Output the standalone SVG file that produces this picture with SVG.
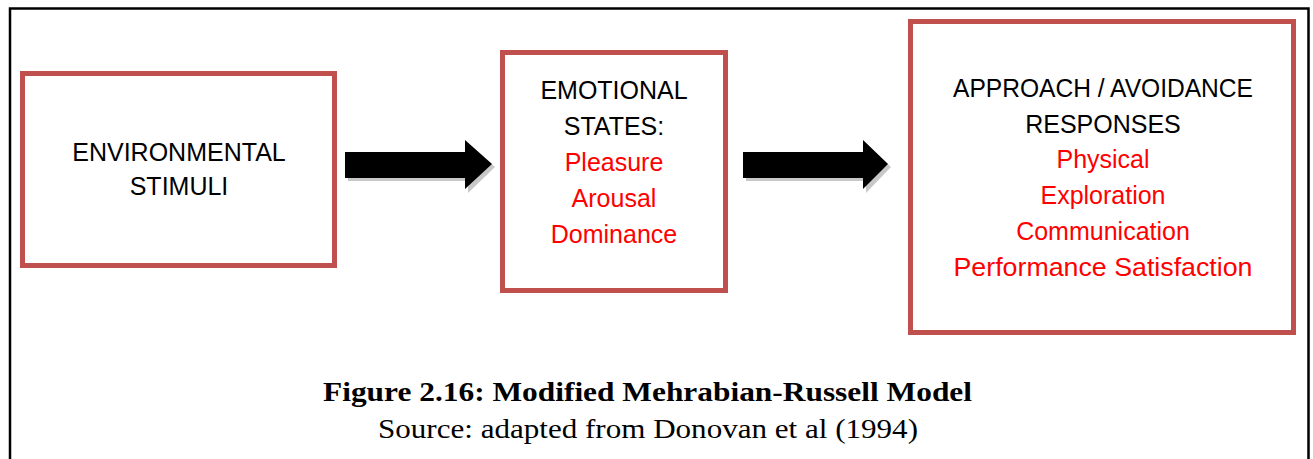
<svg xmlns="http://www.w3.org/2000/svg" width="1313" height="459" viewBox="0 0 1313 459">
<style>
.box{fill:#fff;stroke:#C0504D;stroke-width:5}
.t{font-family:"Liberation Sans",Arial,sans-serif;font-size:25px;text-anchor:middle;fill:#000}
.r{fill:#FF0000}
.shadow{fill:#c8c8c8}
.arrow{fill:#000}
.cap{font-family:"Liberation Serif","Times New Roman",serif;text-anchor:middle;fill:#000}
</style>
<rect width="1313" height="459" fill="#fff"/>
<path d="M10,459 V8.5 H1308.5 V459" fill="none" stroke="#000" stroke-width="2.5"/>
<g id="node-environmental">
<rect class="box" x="22.5" y="73.5" width="312" height="192"/>
<text class="t" x="179" y="161">ENVIRONMENTAL</text>
<text class="t" x="179" y="195">STIMULI</text>
</g>
<g id="node-emotional">
<rect class="box" x="502.5" y="52.5" width="223" height="238"/>
<text class="t" x="614" y="99">EMOTIONAL</text>
<text class="t" x="614" y="135">STATES:</text>
<text class="t r" x="614" y="171">Pleasure</text>
<text class="t r" x="614" y="207">Arousal</text>
<text class="t r" x="614" y="243">Dominance</text>
</g>
<g id="node-responses">
<rect class="box" x="910.5" y="21.5" width="383" height="311"/>
<text class="t" x="1103" y="97" textLength="300" lengthAdjust="spacingAndGlyphs">APPROACH / AVOIDANCE</text>
<text class="t" x="1103" y="133">RESPONSES</text>
<text class="t r" x="1103" y="168">Physical</text>
<text class="t r" x="1103" y="204">Exploration</text>
<text class="t r" x="1103" y="240">Communication</text>
<text class="t r" x="1103" y="276" textLength="299" lengthAdjust="spacingAndGlyphs">Performance Satisfaction</text>
</g>
<g id="connectors">
<polygon class="shadow" points="348,155 468,155 468,143 495,167 468,193 468,181 348,181"/>
<polygon class="arrow" points="345,152 465,152 465,140 492,164 465,189 465,178 345,178"/>
<polygon class="shadow" points="746,155 866,155 866,143 891,167 866,193 866,181 746,181"/>
<polygon class="arrow" points="743,152 863,152 863,140 888,164 863,189 863,178 743,178"/>
</g>
<g id="caption">
<text class="cap" x="647.5" y="401" font-size="28" font-weight="bold" textLength="649" lengthAdjust="spacingAndGlyphs">Figure 2.16: Modified Mehrabian-Russell Model</text>
<text class="cap" x="648" y="438" font-size="27" textLength="540" lengthAdjust="spacingAndGlyphs">Source: adapted from Donovan et al (1994)</text>
</g>
</svg>
